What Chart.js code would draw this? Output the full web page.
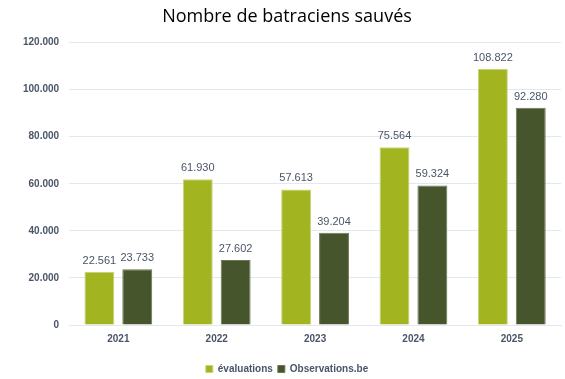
<!DOCTYPE html>
<html>
<head>
<meta charset="utf-8">
<script src="https://cdn.jsdelivr.net/npm/chart.js@4"></script>
<style>
	html, body { margin: 0; padding: 0; background: #fff; }
	#wrap { width: 565px; height: 379px; }
</style>
</head>
<body>
<div id="wrap"><canvas id="batraciensChart"></canvas></div>
<script>
// ===== DATA =====
const annees = ['2021', '2022', '2023', '2024', '2025'];
const evaluations = [22561, 61930, 57613, 75564, 108822];
const observations = [23733, 27602, 39204, 59324, 92280];

const formatNombre = v => v.toLocaleString('de-DE');

// ===== VALUE LABELS =====
const valueLabels = {
	id: 'valueLabels',
	afterDatasetsDraw(chart) {
		const ctx = chart.ctx;
		ctx.save();
		ctx.font = '11px "Liberation Sans", Arial, sans-serif';
		ctx.fillStyle = '#4A5568';
		ctx.textAlign = 'center';
		ctx.textBaseline = 'middle';
		chart.data.datasets.forEach((ds, i) => {
			chart.getDatasetMeta(i).data.forEach((bar, j) => {
				ctx.fillText(formatNombre(ds.data[j]), bar.x, bar.y - 11);
			});
		});
		ctx.restore();
	}
};

const ctx = document.getElementById('batraciensChart').getContext('2d');

new Chart(ctx, {
	type: 'bar',
	data: {
		labels: annees,
		datasets: [
			{
				label: 'évaluations',
				data: evaluations,
				backgroundColor: '#A2B41F',
				borderColor: '#C9D37A',
				borderWidth: 1
			},
			{
				label: 'Observations.be',
				data: observations,
				backgroundColor: '#46552C',
				borderColor: '#6B7656',
				borderWidth: 1
			}
		]
	},
	options: {
		responsive: true,
		maintainAspectRatio: false,
		animation: false,
		layout: {
			padding: { left: 13, right: 4, top: 2, bottom: -5 }
		},
		datasets: {
			bar: {
				categoryPercentage: 0.77,
				barPercentage: 0.79
			}
		},
		plugins: {
			title: {
				display: true,
				text: 'Nombre de batraciens sauvés',
				color: '#000',
				font: { size: 18, family: '"Open Sans", sans-serif', weight: 'normal' },
				padding: { top: 4, bottom: 15 }
			},
			legend: {
				position: 'bottom',
				labels: {
					color: '#4A5568',
					font: { size: 10, family: '"Liberation Sans", Arial, sans-serif', weight: 'bold' },
					boxWidth: 7,
					boxHeight: 7,
					padding: 5
				}
			},
			tooltip: { enabled: false }
		},
		scales: {
			y: {
				min: 0,
				max: 120000,
				ticks: {
					stepSize: 20000,
					padding: 10,
					color: '#4A5568',
					font: { size: 10, family: '"Liberation Sans", Arial, sans-serif', weight: 'bold' },
					callback: v => formatNombre(v)
				},
				grid: { color: '#E3E7EE', drawTicks: false },
				border: { display: false }
			},
			x: {
				ticks: {
					padding: 8,
					color: '#4A5568',
					font: { size: 10, family: '"Liberation Sans", Arial, sans-serif', weight: 'bold' }
				},
				grid: { display: false, drawTicks: false },
				border: { color: '#E3E7EE' },
				afterFit: scale => { scale.height += 6; }
			}
		}
	},
	plugins: [valueLabels]
});
</script>
</body>
</html>
